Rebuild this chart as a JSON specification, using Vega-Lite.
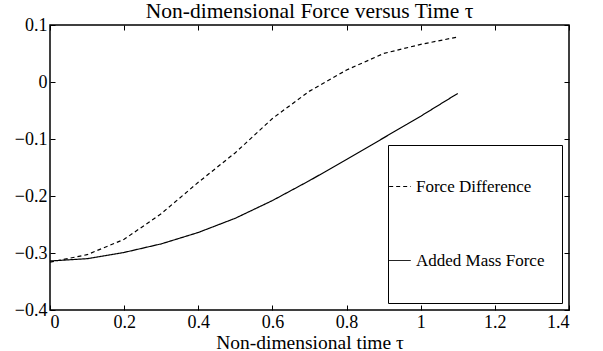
{
  "$schema": "https://vega.github.io/schema/vega-lite/v6.json",
  "width": 519,
  "height": 285,
  "autosize": {"type": "none"},
  "padding": {"left": 50, "top": 25, "right": 34, "bottom": 41},
  "background": "white",
  "title": {
    "text": "Non-dimensional Force versus Time τ",
    "font": "Liberation Serif",
    "fontSize": 21.5,
    "fontWeight": "normal",
    "color": "black",
    "anchor": "middle",
    "offset": -6
  },
  "data": {
    "values": [
      {"t": 0.0, "value": -0.316, "series": "Force Difference"},
      {"t": 0.1, "value": -0.303, "series": "Force Difference"},
      {"t": 0.2, "value": -0.276, "series": "Force Difference"},
      {"t": 0.3, "value": -0.231, "series": "Force Difference"},
      {"t": 0.4, "value": -0.176, "series": "Force Difference"},
      {"t": 0.5, "value": -0.124, "series": "Force Difference"},
      {"t": 0.6, "value": -0.064, "series": "Force Difference"},
      {"t": 0.7, "value": -0.016, "series": "Force Difference"},
      {"t": 0.8, "value": 0.021, "series": "Force Difference"},
      {"t": 0.9, "value": 0.05, "series": "Force Difference"},
      {"t": 1.0, "value": 0.066, "series": "Force Difference"},
      {"t": 1.1, "value": 0.079, "series": "Force Difference"},
      {"t": 0.0, "value": -0.314, "series": "Added Mass Force"},
      {"t": 0.1, "value": -0.31, "series": "Added Mass Force"},
      {"t": 0.2, "value": -0.299, "series": "Added Mass Force"},
      {"t": 0.3, "value": -0.284, "series": "Added Mass Force"},
      {"t": 0.4, "value": -0.264, "series": "Added Mass Force"},
      {"t": 0.5, "value": -0.239, "series": "Added Mass Force"},
      {"t": 0.6, "value": -0.208, "series": "Added Mass Force"},
      {"t": 0.7, "value": -0.173, "series": "Added Mass Force"},
      {"t": 0.8, "value": -0.136, "series": "Added Mass Force"},
      {"t": 0.9, "value": -0.098, "series": "Added Mass Force"},
      {"t": 1.0, "value": -0.06, "series": "Added Mass Force"},
      {"t": 1.1, "value": -0.02, "series": "Added Mass Force"}
    ]
  },
  "layer": [
    {
      "mark": {"type": "line", "color": "black", "strokeWidth": 1.2},
      "encoding": {
        "x": {
          "field": "t",
          "type": "quantitative",
          "scale": {"domain": [0, 1.4], "nice": false, "zero": false},
          "axis": {
            "orient": "bottom",
            "title": "Non-dimensional time τ",
            "values": [0, 0.2, 0.4, 0.6, 0.8, 1, 1.2, 1.4],
            "format": "~g"
          }
        },
        "y": {
          "field": "value",
          "type": "quantitative",
          "scale": {"domain": [-0.4, 0.1], "nice": false, "zero": false},
          "axis": {
            "orient": "left",
            "title": null,
            "values": [-0.4, -0.3, -0.2, -0.1, 0, 0.1],
            "format": "~g"
          }
        },
        "strokeDash": {
          "field": "series",
          "type": "nominal",
          "scale": {
            "domain": ["Force Difference", "Added Mass Force"],
            "range": [[4, 3], [1, 0]]
          },
          "legend": {
            "orient": "none",
            "legendX": 338,
            "legendY": 120,
            "title": null,
            "symbolType": "M-1.12,0H-0.52M-1.12,-1M-1.12,0.96M3.48,0",
            "symbolSize": 5184,
            "symbolStrokeWidth": 1,
            "symbolStrokeColor": "black",
            "symbolFillColor": "transparent",
            "labelOffset": -50,
            "labelFont": "Liberation Serif",
            "labelFontSize": 17,
            "labelColor": "black",
            "labelLimit": 0,
            "padding": 5,
            "rowPadding": -3,
            "strokeColor": "black"
          }
        }
      }
    },
    {
      "mark": {"type": "line", "opacity": 0},
      "encoding": {
        "x": {
          "field": "t",
          "type": "quantitative",
          "axis": {
            "orient": "top",
            "title": null,
            "labels": false,
            "values": [0, 0.2, 0.4, 0.6, 0.8, 1, 1.2, 1.4]
          }
        },
        "y": {
          "field": "value",
          "type": "quantitative",
          "axis": {
            "orient": "right",
            "title": null,
            "labels": false,
            "values": [-0.4, -0.3, -0.2, -0.1, 0, 0.1]
          }
        }
      }
    }
  ],
  "resolve": {"axis": {"x": "independent", "y": "independent"}},
  "config": {
    "view": {"stroke": "black", "strokeWidth": 1.5},
    "legend": {
      "labelFont": "Liberation Serif",
      "labelFontSize": 17,
      "labelColor": "black",
      "labelLimit": 0
    },
    "axis": {
      "domain": false,
      "grid": false,
      "ticks": true,
      "tickSize": -5,
      "tickColor": "black",
      "tickWidth": 1,
      "labelFont": "Liberation Serif",
      "labelFontSize": 18,
      "labelColor": "black",
      "labelPadding": 8,
      "titleFont": "Liberation Serif",
      "titleFontSize": 19.5,
      "titleFontWeight": "normal",
      "titleColor": "black",
      "titlePadding": 2
    }
  }
}
